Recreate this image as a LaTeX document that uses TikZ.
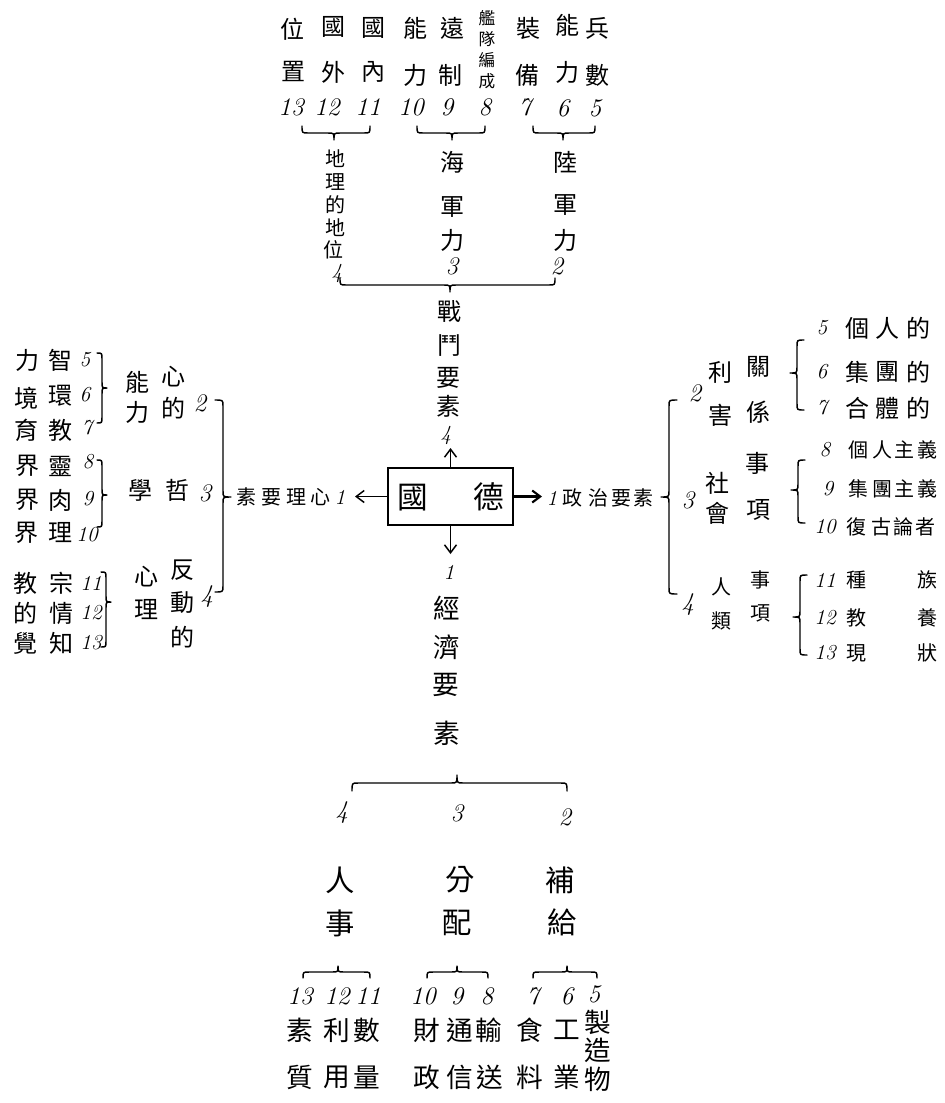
\documentclass[tikz,border=0pt]{standalone}
\usepackage{fontspec}
\newfontfamily\cjk{Noto Sans CJK TC}
\usetikzlibrary{arrows.meta}
\newcounter{nd}
\newcommand\C[4][]{\stepcounter{nd}\node[chr,#1] (c\arabic{nd}) at (#2,#3) {#4};}
\newcommand\N[4][]{\stepcounter{nd}\node[num,#1] (c\arabic{nd}) at (#2,#3) {#4};}
% horizontal brace: x1,x2,xm,y,h  (ends at y-h, tip at y+h)
\newcommand\HBr[5]{\draw[brc] (#1,{#4-(#5)}) .. controls (#1,#4) .. (#1+6,#4) -- (#3-6,#4) .. controls (#3,#4) .. (#3,{#4+(#5)}) .. controls (#3,#4) .. (#3+6,#4) -- (#2-6,#4) .. controls (#2,#4) .. (#2,{#4-(#5)});}
% vertical brace: y1,y2,ym,x,h  (ends at x-h, tip at x+h)
\newcommand\VBr[5]{\draw[brc] ({#4-(#5)},#1) .. controls (#4,#1) .. (#4,#1+6) -- (#4,#3-6) .. controls (#4,#3) .. ({#4+(#5)},#3) .. controls (#4,#3) .. (#4,#3+6) -- (#4,#2-6) .. controls (#4,#2) .. ({#4-(#5)},#2);}
\tikzset{
 chr/.style={font=\cjk\fontsize{18}{18}\selectfont, inner sep=0pt},
 num/.style={font=\itshape\fontsize{19}{19}\selectfont, inner sep=0pt},
 sm/.style={font=\cjk\fontsize{12.5}{12.5}\selectfont},
 md/.style={font=\cjk\fontsize{15}{15}\selectfont},
 lg/.style={font=\cjk\fontsize{20}{20}\selectfont},
 xl/.style={font=\cjk\fontsize{22}{22}\selectfont},
 snum/.style={font=\itshape\fontsize{16}{16}\selectfont},
 brc/.style={line width=1.1pt, line cap=round, line join=round},
 arr/.style={-{Straight Barb[length=6pt,width=9pt]}, line width=1.1pt}
}
\begin{document}
\begin{tikzpicture}[x=0.75pt,y=-0.75pt]
\useasboundingbox (0,0) rectangle (945,1103);
% ---------- top ----------
\C{292}{29}{位} \C{293}{71}{置} \N{291}{107}{13}
\C{333}{27}{國} \C{333}{72}{外} \N{327}{107}{12}
\C{373}{28}{國} \C{373}{72}{內} \N{368}{107}{11}
\C{415}{28}{能} \C{415}{75}{力} \N{411}{107}{10}
\C{452}{28}{遠} \C{450}{75}{制} \N{447}{107}{9}
\C[sm]{487}{18}{艦} \C[sm]{487}{39}{隊} \C[sm]{487}{60}{編} \C[sm]{487}{81}{成} \N{485}{107}{8}
\C{528}{28}{裝} \C{527}{75}{備} \N{525}{107}{7}
\C{567}{25}{能} \C{567}{72}{力} \N{563}{108}{6}
\C{597}{28}{兵} \C{597}{75}{數} \N{595}{108}{5}
\HBr{302}{370}{334}{133}{7}
\HBr{417}{485}{452}{133}{7}
\HBr{533}{595}{563}{133}{7}
\C[md]{335}{159}{地} \C[md]{335}{182}{理} \C[md]{335}{205}{的} \C[md]{335}{228}{地} \C[md]{333}{250}{位} \N[snum]{337}{273}{4}
\C{452}{162}{海} \C{452}{207}{軍} \C{452}{240}{力} \N{452}{266}{3}
\C{565}{162}{陸} \C{565}{205}{軍} \C{565}{240}{力} \N{557}{266}{2}
\HBr{340}{555}{450}{285}{7}
\C{449}{312}{戰} \C{449}{346}{鬥} \C{448}{378}{要} \C{448}{406}{素} \N[snum]{446}{435}{4}
% ---------- centre ----------
\node[draw, line width=1.3pt, minimum width=93.75pt, minimum height=42.75pt, inner sep=0pt,
      font=\cjk\fontsize{23}{23}\selectfont] (box) at (450.5,496.5) {國\hspace{34pt}德};
\coordinate (aU) at (450.5,448);
\coordinate (aL) at (355,496.5);
\coordinate (aR) at (542,496.5);
\coordinate (aD) at (450.5,554);
\draw[arr] (box.north) -- (aU);
\draw[arr] (box.west) -- (aL);
\draw[arr, line width=1.6pt] (box.east) -- (aR);
\draw[arr] (box.south) -- (aD);
% left label
\C[md]{246}{497}{素} \C[md]{271}{497}{要} \C[md]{296}{497}{理} \C[md]{320}{497}{心} \N[snum]{340}{497}{1}
% right label
\N[snum]{552}{498}{1} \C[md]{572}{498}{政} \C[md]{598}{498}{治} \C[md]{621}{498}{要} \C[md]{643}{498}{素}
% ---------- right block ----------
\VBr{400}{594}{497}{669}{-8}
\N{695}{393}{2} \C{720}{372}{利} \C{720}{415}{害} \C{758}{367}{關} \C{758}{412}{係}
\N{688}{500}{3} \C{717}{483}{社} \C{717}{513}{會} \C{757}{463}{事} \C{758}{510}{項}
\N{688}{605}{4} \C[md]{721}{587}{人} \C[md]{721}{621}{類} \C[md]{760}{580}{事} \C[md]{760}{613}{項}
\VBr{340}{410}{373}{797}{-7}
\N[snum]{822}{328}{5} \C{857}{328}{個} \C{887}{328}{人} \C{918}{328}{的}
\N[snum]{822}{372}{6} \C{857}{372}{集} \C{887}{372}{團} \C{918}{372}{的}
\N[snum]{822}{408}{7} \C{857}{408}{合} \C{887}{408}{體} \C{918}{408}{的}
\VBr{460}{523}{490}{798}{-7}
\N[snum]{825}{450}{8} \C[md]{858}{450}{個} \C[md]{882}{450}{人} \C[md]{904}{450}{主} \C[md]{927}{450}{義}
\N[snum]{828}{489}{9} \C[md]{858}{489}{集} \C[md]{882}{489}{團} \C[md]{904}{489}{主} \C[md]{927}{489}{義}
\N[snum]{825}{527}{10} \C[md]{856}{527}{復} \C[md]{881}{527}{古} \C[md]{903}{527}{論} \C[md]{925}{527}{者}
\VBr{575}{655}{617}{800}{-7}
\N[snum]{825}{580}{11} \C[md]{856}{580}{種} \C[md]{927}{580}{族}
\N[snum]{825}{618}{12} \C[md]{856}{618}{教} \C[md]{927}{618}{養}
\N[snum]{825}{653}{13} \C[md]{856}{653}{現} \C[md]{927}{653}{狀}
% ---------- left block ----------
\VBr{400}{592}{497}{223}{8}
\N{200}{403}{2} \C{173}{377}{心} \C{173}{408}{的} \C{137}{382}{能} \C{137}{412}{力}
\N{205}{493}{3} \C{177}{490}{哲} \C{140}{490}{學}
\N{207}{597}{4} \C{182}{570}{反} \C{182}{603}{動} \C{182}{637}{的} \C{146}{577}{心} \C{146}{610}{理}
\VBr{353}{423}{388}{102}{5}
\N[snum]{85}{360}{5} \C{60}{360}{智} \C{27}{360}{力}
\N[snum]{85}{395}{6} \C{60}{396}{環} \C{26}{398}{境}
\N[snum]{87}{428}{7} \C{60}{430}{教} \C{26}{430}{育}
\VBr{460}{527}{495}{102}{5}
\N[snum]{88}{462}{8} \C{60}{466}{靈} \C{27}{466}{界}
\N[snum]{88}{499}{9} \C{60}{500}{肉} \C{27}{500}{界}
\N[snum]{87}{535}{10} \C{60}{533}{理} \C{26}{533}{界}
\VBr{572}{647}{602}{106}{5}
\N[snum]{91}{583}{11} \C{61}{583}{宗} \C{25}{583}{教}
\N[snum]{91}{613}{12} \C{61}{613}{情} \C{25}{613}{的}
\N[snum]{91}{643}{13} \C{61}{643}{知} \C{25}{643}{覺}
% ---------- bottom ----------
\N[snum]{449}{572}{1} \C[lg]{447}{608}{經} \C[lg]{447}{647}{濟} \C[lg]{446}{685}{要} \C[lg]{447}{733}{素}
\HBr{352}{567}{457}{783}{-8}
\N{342}{813}{4} \N{457}{813}{3} \N{565}{817}{2}
\C[xl]{340}{880}{人} \C[xl]{340}{923}{事}
\C[xl]{460}{880}{分} \C[xl]{457}{923}{配}
\C[xl]{560}{880}{補} \C[xl]{562}{922}{給}
\HBr{303}{370}{338}{972}{-6}
\HBr{427}{488}{457}{972}{-6}
\HBr{533}{597}{567}{972}{-6}
\N{300}{996}{13} \N{337}{996}{12} \N{368}{996}{11}
\N{423}{996}{10} \N{457}{996}{9} \N{487}{996}{8}
\N{533}{996}{7} \N{567}{996}{6} \N{594}{994}{5}
\C[lg]{300}{1030}{素} \C[lg]{337}{1030}{利} \C[lg]{367}{1030}{數}
\C[lg]{427}{1030}{財} \C[lg]{460}{1030}{通} \C[lg]{489}{1030}{輸}
\C[lg]{530}{1030}{食} \C[lg]{567}{1030}{工} \C[lg]{598}{1022}{製}
\C[lg]{300}{1077}{質} \C[lg]{337}{1077}{用} \C[lg]{367}{1077}{量}
\C[lg]{427}{1077}{政} \C[lg]{460}{1077}{信} \C[lg]{490}{1077}{送}
\C[lg]{530}{1077}{料} \C[lg]{567}{1077}{業} \C[lg]{598}{1050}{造} \C[lg]{598}{1079}{物}
\end{tikzpicture}
\end{document}
